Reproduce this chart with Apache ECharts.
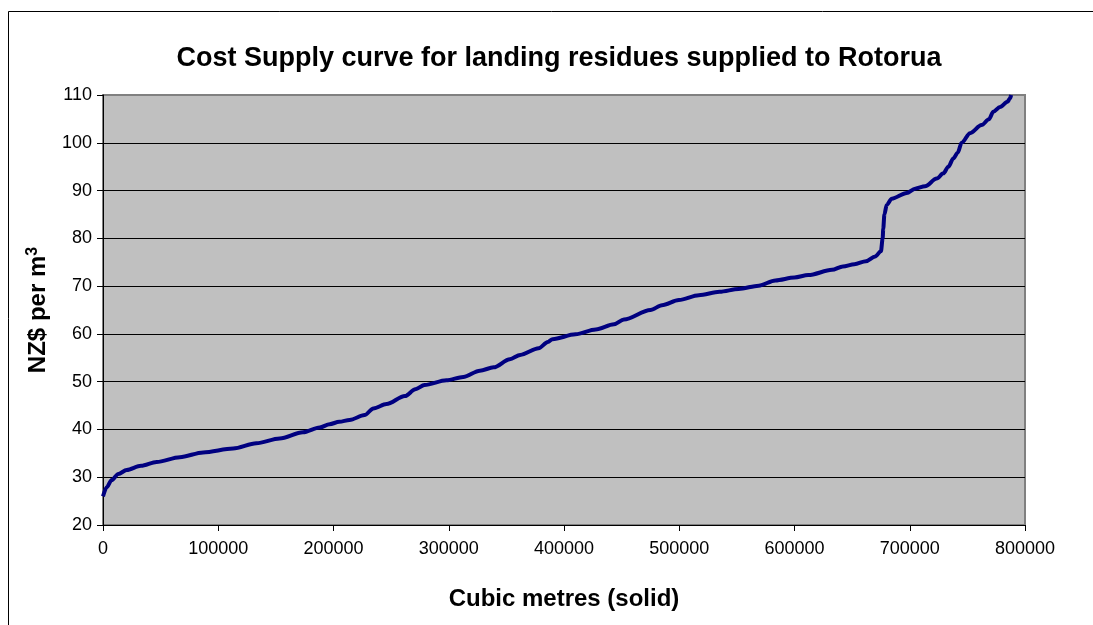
<!DOCTYPE html>
<html>
<head>
<meta charset="utf-8">
<script src="https://cdn.jsdelivr.net/npm/echarts@6/dist/echarts.min.js"></script>
<style>
  html, body { margin: 0; padding: 0; background: #ffffff; }
  #chart { width: 1093px; height: 625px; }
</style>
</head>
<body>
<div id="chart"></div>
<script>
// Cumulative supply volume (cubic metres, solid)
const volumes = [0, 3200, 7500, 13300, 20500, 33000, 46500, 66700, 86900, 112900,
  133000, 153300, 173500, 188000, 196600, 205000, 214000, 227000, 234600, 246000,
  262000, 271000, 279000, 298000, 312600, 327000, 339000, 353000, 362000, 378000,
  386000, 390000, 410000, 427500, 443400, 452000, 475000, 485000, 499700, 517000,
  535000, 551600, 569000, 583400, 600000, 612000, 632500, 642000, 652000, 662000,
  670000, 675000, 676500, 677000, 678000, 680000, 684400, 697400, 704600, 713300,
  723400, 729200, 733500, 737800, 741600, 745000, 752300, 762300, 768700, 772500,
  778300, 784900, 787000, 788000];

// Delivered cost at each volume (NZ$ per m3)
const costs = [26, 27.9, 29.4, 30.7, 31.5, 32.4, 33.2, 34.2, 35.2, 36,
  37.1, 38.1, 39.4, 40.4, 41.1, 41.6, 42, 43, 44.4, 45.3,
  47, 48.4, 49.3, 50.3, 51, 52.3, 53, 54.7, 55.6, 57,
  58.3, 58.9, 59.9, 60.9, 62, 63, 65, 66, 67.1, 68.1,
  68.8, 69.4, 70.1, 71.2, 71.8, 72.3, 73.4, 74.1, 74.6, 75.2,
  76.2, 77.3, 80, 82, 85, 87, 88.3, 89.5, 90.4, 90.9,
  92.5, 93.6, 95, 96.7, 97.9, 100, 102, 103.7, 104.9, 106.5,
  107.5, 108.6, 109.3, 110];

const titleText = 'Cost Supply curve for landing residues supplied to Rotorua';
const xName = 'Cubic metres (solid)';
const yName = 'NZ$ per m{sup|3}';

const curve = volumes.map((v, i) => [v, costs[i]]);

// grid lines: black for 20..100, grey at the top edge (110)
const ySplitColors = ['#000', '#000', '#000', '#000', '#000', '#000', '#000', '#000', '#000', '#808080'];

const FONT = 'Liberation Sans, Arial, sans-serif';

const chart = echarts.init(document.getElementById('chart'), null, { renderer: 'canvas' });
chart.setOption({
  animation: false,
  backgroundColor: '#ffffff',
  textStyle: { fontFamily: FONT },
  title: {
    text: titleText,
    left: 554,
    top: 40,
    textAlign: 'center',
    textStyle: { fontSize: 27, fontWeight: 'bold', color: '#000', fontFamily: FONT }
  },
  graphic: [{
    type: 'rect',
    shape: { x: 8.5, y: 11.5, width: 1200, height: 800 },
    style: { fill: 'none', stroke: '#000', lineWidth: 1 },
    silent: true,
    z: -1
  }],
  grid: {
    left: 103, right: 68, top: 95, bottom: 100,
    show: true,
    backgroundColor: '#c0c0c0',
    borderColor: '#808080',
    borderWidth: 2
  },
  xAxis: {
    type: 'value',
    min: 0, max: 800000, interval: 100000,
    name: xName,
    nameLocation: 'middle',
    nameGap: 62,
    nameTextStyle: { fontSize: 24, fontWeight: 'bold', color: '#000' },
    axisLine: { show: true, onZero: false, lineStyle: { color: '#000', width: 1 } },
    axisTick: { show: true, length: 6, lineStyle: { color: '#000' } },
    axisLabel: { fontSize: 18, color: '#000', margin: 15, formatter: (v) => String(v) },
    splitLine: { show: false }
  },
  yAxis: {
    type: 'value',
    min: 20, max: 110, interval: 10,
    name: yName,
    nameLocation: 'middle',
    nameGap: 52,
    nameRotate: 90,
    nameTextStyle: {
      fontSize: 24, fontWeight: 'bold', color: '#000',
      rich: { sup: { fontSize: 16, fontWeight: 'bold', verticalAlign: 'top', padding: [0, 0, 10, 0] } }
    },
    axisLine: { show: true, lineStyle: { color: '#000', width: 1 } },
    axisTick: { show: true, length: 6, lineStyle: { color: '#000' } },
    axisLabel: { fontSize: 18, color: '#000', margin: 11 },
    splitLine: { show: true, lineStyle: { color: ySplitColors, width: 1 } }
  },
  series: [{
    type: 'line',
    data: curve,
    symbol: 'none',
    smooth: 0.3,
    smoothMonotone: 'x',
    lineStyle: { color: '#000080', width: 4 },
    clip: false,
    z: 5
  }]
});
</script>
</body>
</html>
